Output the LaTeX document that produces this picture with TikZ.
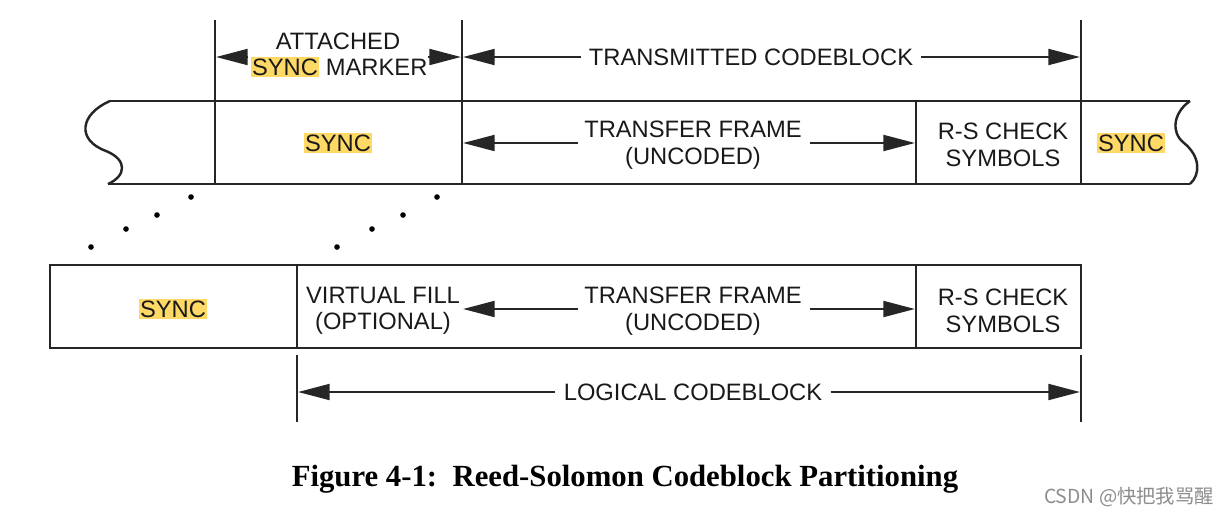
\documentclass[tikz,border=0pt]{standalone}
\usepackage{fontspec}
\setmainfont{Liberation Sans}
\newfontfamily\capfont{Liberation Serif}
\newfontfamily\cjkfont{Noto Sans CJK SC}
\usetikzlibrary{arrows.meta}
\definecolor{hl}{RGB}{255,217,102}
\newcommand\hlsync{{\setlength\fboxsep{0.8pt}\colorbox{hl}{SYNC}}}
\tikzset{
  line/.style={line width=1.4pt,black!85},
  dim/.style={line width=1.4pt,black!85,-{Triangle[length=18pt,width=9pt]}},
  lbl/.style={font=\fontsize{13.5}{15}\selectfont,align=center,inner sep=0pt,text=black!90},
  hlbox/.style={lbl,fill=hl,inner sep=0.8pt},
  dotm/.style={circle,fill=black,inner sep=0pt,minimum size=3.2pt},
}
\begin{document}
\begin{tikzpicture}[x=0.02cm,y=-0.02cm]
\useasboundingbox (0,0) rectangle (1231,518);
% ---------- top strip ----------
\draw[line] (110,101) -- (1190,101);
\draw[line] (108,184) -- (1190,184);
\draw[line] (110,101) .. controls (80,114) and (76,140) .. (106,151) .. controls (128,160) and (126,176) .. (108,184);
\draw[line] (1190,101) .. controls (1174,112) and (1170,132) .. (1184,143) .. controls (1200,156) and (1201,174) .. (1190,184);
\draw[line] (215,20) -- (215,184);
\draw[line] (462,20) -- (462,184);
\draw[line] (916,101) -- (916,184);
\draw[line] (1081,20) -- (1081,184);
% dimension: attached sync marker
\node[lbl] (asm1) at (338,41) {ATTACHED};
\node[lbl] (asm2) at (339,67) {\hlsync{} MARKER};
\coordinate (asmL) at (248,57);
\coordinate (asmR) at (428,57);
\draw[dim] (asmL) -- (216,57);
\draw[dim] (asmR) -- (461,57);
% dimension: transmitted codeblock
\node[lbl] (tcb) at (751,57) {TRANSMITTED CODEBLOCK};
\draw[dim] (tcb.west) ++(-8,0) -- (463,57);
\draw[dim] (tcb.east) ++(8,0) -- (1080,57);
% strip contents
\node[hlbox] (sync1) at (338,143) {SYNC};
\node[lbl] (tf1) at (693,145) {TRANSFER FRAME\\(UNCODED)};
\draw[dim] (578,143) -- (463,143);
\draw[dim] (810,143) -- (915,143);
\node[lbl] (rs1) at (1003,145) {R-S CHECK\\SYMBOLS};
\node[hlbox] (sync2) at (1131,143) {SYNC};
% dots
\foreach \p in {(91,247),(126,229),(157,215),(191,197),(337,247),(372,229),(403,215),(437,197)}
  \node[dotm] at \p {};
% ---------- bottom strip ----------
\draw[line] (50,265) rectangle (1081,348);
\draw[line] (297,265) -- (297,348);
\draw[line] (916,265) -- (916,348);
\node[hlbox] (sync3) at (173,309) {SYNC};
\node[lbl] (vf) at (383,311) {VIRTUAL FILL\\(OPTIONAL)};
\node[lbl] (tf2) at (693,311) {TRANSFER FRAME\\(UNCODED)};
\draw[dim] (578,309) -- (463,309);
\draw[dim] (810,309) -- (915,309);
\node[lbl] (rs2) at (1003,311) {R-S CHECK\\SYMBOLS};
% logical codeblock
\draw[line] (297,355) -- (297,422);
\draw[line] (1081,355) -- (1081,422);
\node[lbl] (lcb) at (693,392) {LOGICAL CODEBLOCK};
\draw[dim] (lcb.west) ++(-8,0) -- (298,392);
\draw[dim] (lcb.east) ++(8,0) -- (1080,392);
% caption
\node[font=\capfont\bfseries\fontsize{17.5}{20}\selectfont,inner sep=0pt] (cap) at (625,479) {Figure 4-1:\ \ Reed-Solomon Codeblock Partitioning};
\node[font=\cjkfont\fontsize{11}{12}\selectfont,text=black!45,inner sep=0pt] (wm) at (1129,497) {CSDN @快把我骂醒};
\end{tikzpicture}
\end{document}
